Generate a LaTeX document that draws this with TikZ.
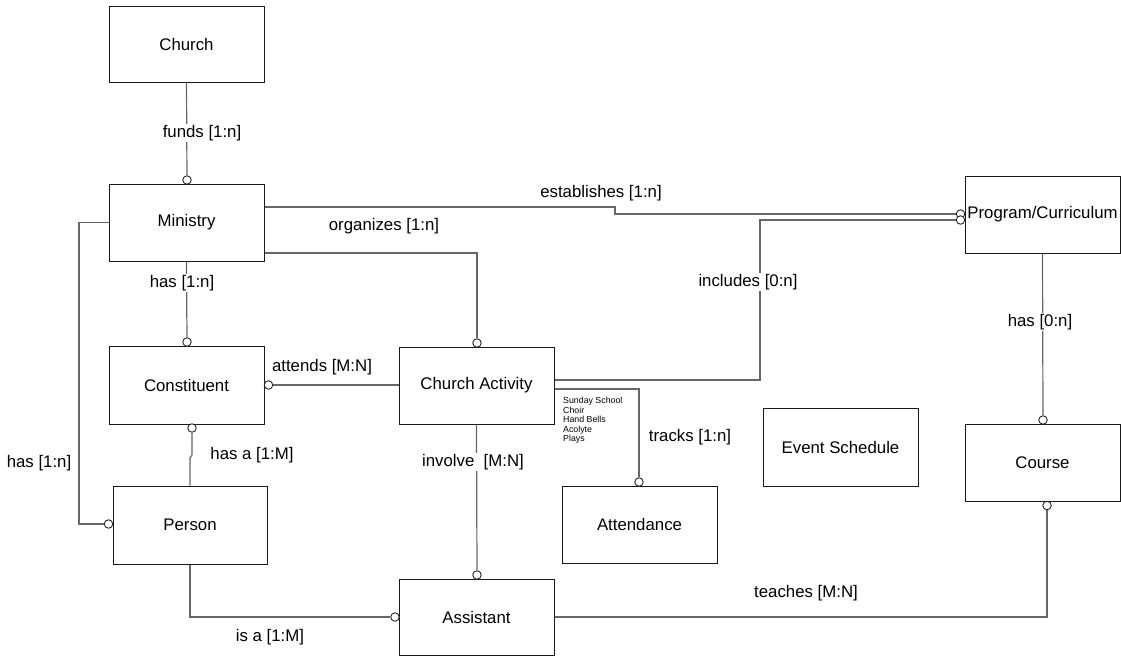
\documentclass[tikz,border=0pt]{standalone}
\usepackage{fontspec}
\setmainfont{Liberation Sans}
\usetikzlibrary{calc}
\definecolor{lc}{HTML}{666666}
\begin{document}
\begin{tikzpicture}[x=1pt,y=-1pt,
 ent/.style={draw=black!90, line width=1pt, minimum width=155pt, minimum height=77pt, inner sep=0pt, font=\fontsize{16.8}{19}\selectfont},
 ring/.style={circle, draw=black!85, fill=white, line width=0.9pt, inner sep=0pt, minimum size=8.5pt},
 conn/.style={draw=lc, line width=1.2pt},
 lbl/.style={fill=white, inner sep=1pt, font=\fontsize{16.8}{19}\selectfont},
 nlbl/.style={inner sep=1pt, font=\fontsize{16.8}{19}\selectfont}]
\useasboundingbox (0,0) rectangle (1121,656);

% entities
\node[ent, minimum height=76pt] (church) at (186.5,44) {Church};
\node[ent] (ministry) at (186.5,222.5) {Ministry};
\node[ent, minimum height=78pt] (constituent) at (186.5,385) {Constituent};
\node[ent, minimum width=154pt, minimum height=78pt] (person) at (190,525) {Person};
\node[ent] (activity) at (476.5,385.5) {Church Activity};
\node[ent] (attendance) at (639.5,524.5) {Attendance};
\node[ent, minimum height=78pt] (event) at (840.5,447) {Event Schedule};
\node[ent] (course) at (1042.5,462.5) {Course};
\node[ent] (program) at (1042.5,214.5) {Program/Curriculum};
\node[ent, minimum height=76pt] (assistant) at (476.5,617) {Assistant};

% rings
\node[ring] (rMin) at (187,180) {};
\node[ring] (rCon) at (187,342) {};
\node[ring] (rAct) at (477,343) {};
\node[ring] (rPer) at (108.5,524) {};
\node[ring] (rConR) at (268.5,385) {};
\node[ring] (rConB) at (192,428) {};
\node[ring] (rAsT) at (477,575) {};
\node[ring] (rAsL) at (395,617) {};
\node[ring] (rAtt) at (639,482) {};
\node[ring] (rCouT) at (1043,420) {};
\node[ring] (rCouB) at (1047,505.5) {};
\node[ring] (rPrg1) at (960.5,214) {};
\node[ring] (rPrg2) at (960.5,220) {};

% connectors
\draw[conn] (church.south) -- (rMin);
\draw[conn] (ministry.east |- 0,207) -- (615,207) -- (615,214) -- (rPrg1);
\draw[conn] (activity.east |- 0,380) -- (760,380) -- (760,220) -- (rPrg2);
\draw[conn] (ministry.east |- 0,253) -- (477,253) -- (rAct);
\draw[conn] (ministry.south) -- (rCon);
\draw[conn] (ministry.west) -- (79,222.5) -- (79,524) -- (rPer);
\draw[conn] (rConR) -- (activity.west |- rConR);
\draw[conn] (rConB) -- (192,455) -- (190,458) -- (person.north);
\draw[conn] (activity.south) -- (rAsT);
\draw[conn] (activity.east |- 0,389) -- (639,389) -- (rAtt);
\draw[conn] (program.south) -- (rCouT);
\draw[conn] (assistant.east) -- (1047,617) -- (rCouB);
\draw[conn] (person.south) -- (190,617) -- (rAsL);

% note
\node[anchor=north west, align=left, inner sep=0pt, font=\fontsize{8.8}{9.6}\selectfont] (note) at (563,397) {Sunday School\\Choir\\Hand Bells\\Acolyte\\Plays};

% labels
\node[lbl] (l1) at (202,133) {funds [1:n]};
\node[nlbl] (l2) at (601,193) {establishes [1:n]};
\node[nlbl] (l3) at (384,226) {organizes [1:n]};
\node[lbl] (l4) at (182,283) {has [1:n]};
\node[lbl] (l5) at (748,282) {includes [0:n]};
\node[lbl] (l6) at (1040,322) {has [0:n]};
\node[nlbl] (l7) at (322,367) {attends [M:N]};
\node[nlbl] (l8) at (39,463) {has [1:n]};
\node[nlbl] (l9) at (252,455) {has a [1:M]};
\node[lbl] (l10) at (473,462) {involve\ \ [M:N]};
\node[nlbl] (l11) at (690,437) {tracks [1:n]};
\node[nlbl] (l12) at (806,593) {teaches [M:N]};
\node[nlbl] (l13) at (270,637) {is a [1:M]};
\end{tikzpicture}
\end{document}
